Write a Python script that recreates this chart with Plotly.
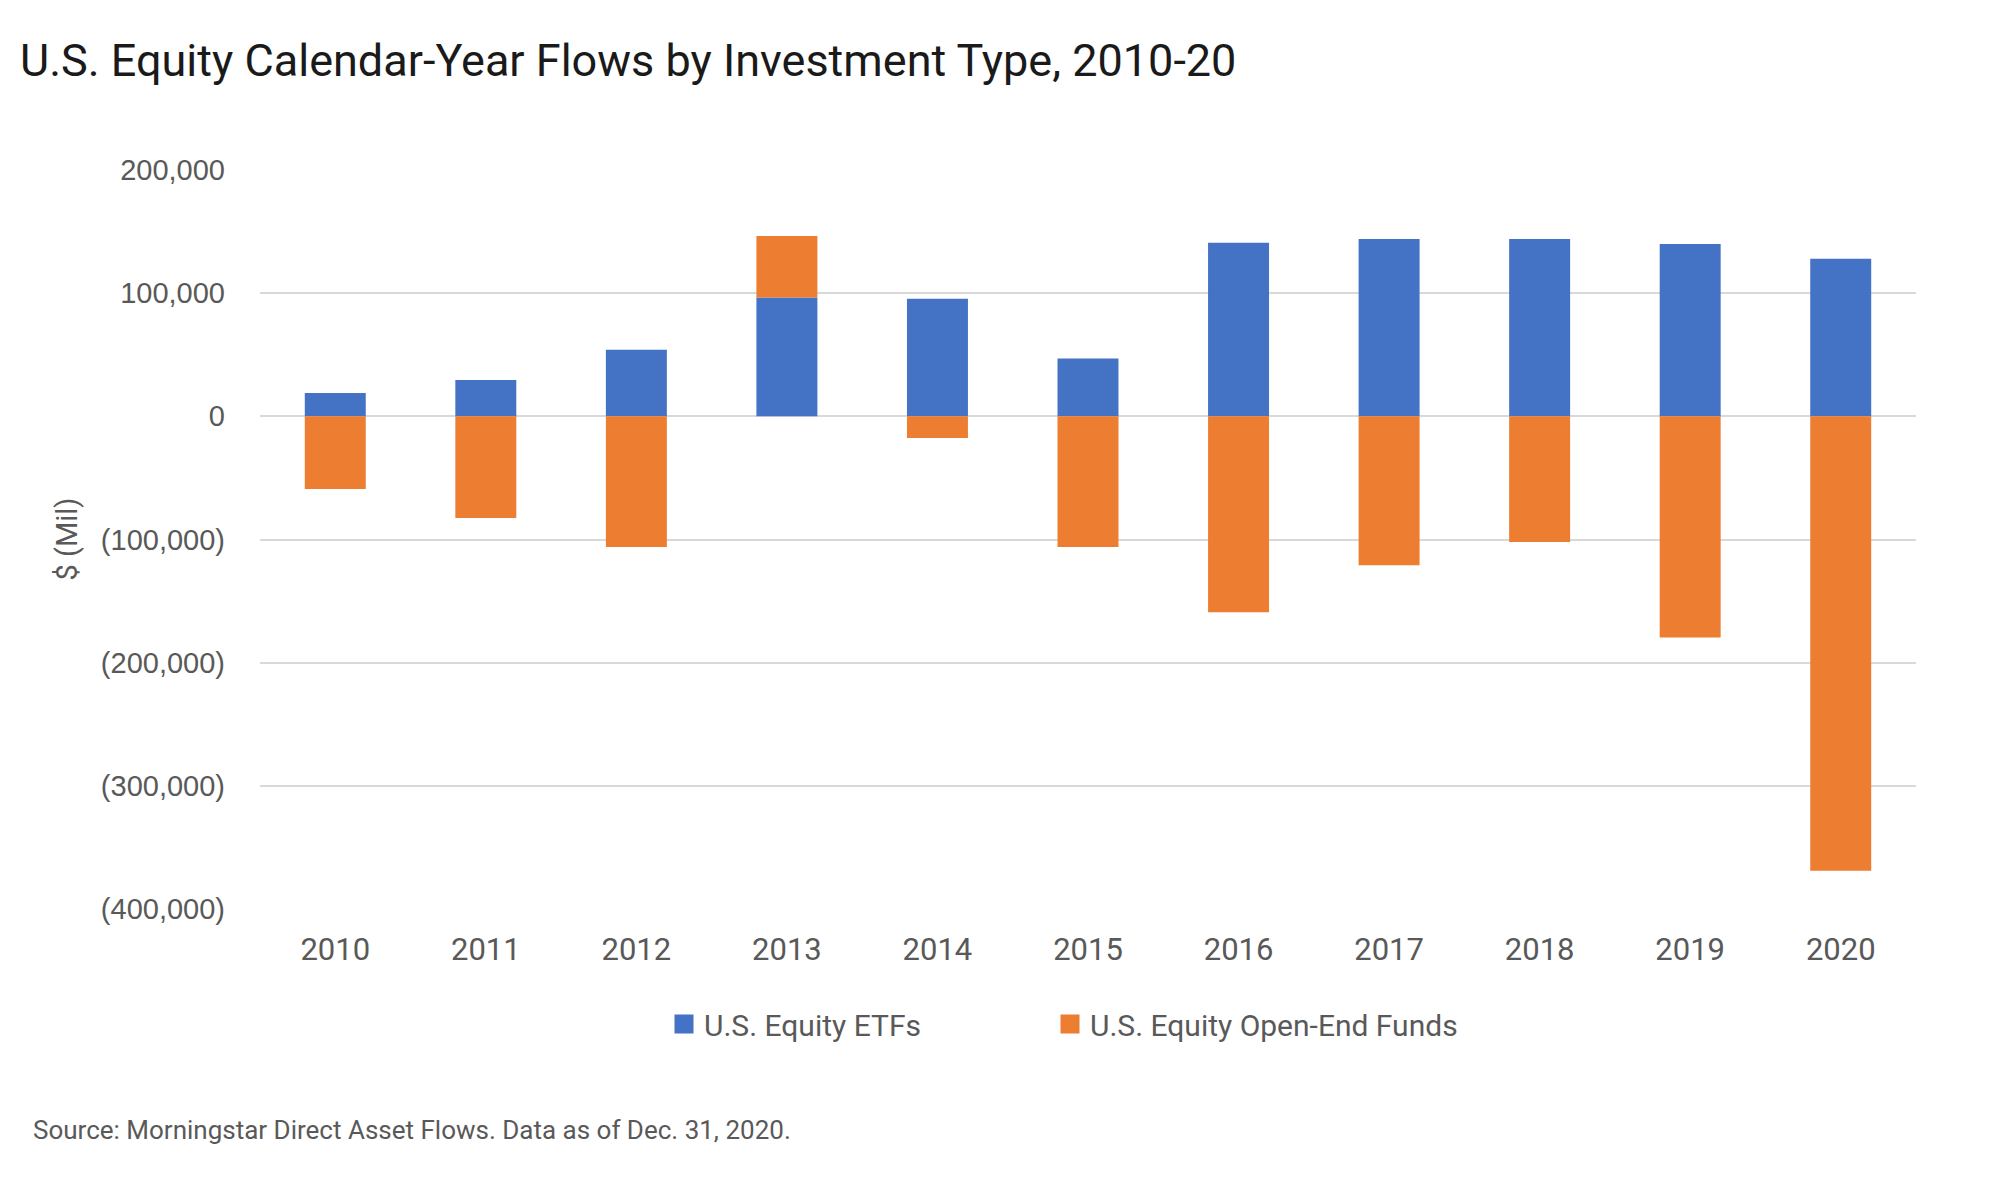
import plotly.graph_objects as go

years = ["2010", "2011", "2012", "2013", "2014", "2015", "2016", "2017", "2018", "2019", "2020"]
etf_flows = [19000, 29500, 54000, 96500, 95500, 47000, 141000, 144000, 144000, 140000, 128000]
openend_flows = [-59000, -82500, -106000, 50000, -17500, -106000, -159000, -121000, -102000, -179500, -369000]
y_tickvals = [200000, 100000, 0, -100000, -200000, -300000, -400000]
y_ticktext = ["200,000", "100,000", "0", "(100,000)", "(200,000)", "(300,000)", "(400,000)"]

BLUE = "#4472C4"
ORANGE = "#ED7D31"
GRAY = "#595959"
COND = "Roboto, Liberation Sans, sans-serif"
REG = "Liberation Sans, Arial, sans-serif"

W, H = 1992, 1195
L, R, T, B = 252, 84, 162, 294
PW, PH = W - L - R, H - T - B


def px_x(x):
    return (x - L) / PW


def px_y(y):
    return (H - B - y) / PH


fig = go.Figure()
fig.add_trace(go.Bar(x=years, y=etf_flows, name="U.S. Equity ETFs",
                     marker=dict(color=BLUE, line=dict(width=0)), showlegend=False))
fig.add_trace(go.Bar(x=years, y=openend_flows, name="U.S. Equity Open-End Funds",
                     marker=dict(color=ORANGE, line=dict(width=0)), showlegend=False))
# legend swatches
fig.add_trace(go.Scatter(x=[None], y=[None], mode="markers", name="U.S. Equity ETFs",
                         marker=dict(symbol="square", size=17, color=BLUE,
                                     line=dict(width=3, color=BLUE)),
                         legend="legend"))
fig.add_trace(go.Scatter(x=[None], y=[None], mode="markers", name="U.S. Equity Open-End Funds",
                         marker=dict(symbol="square", size=17, color=ORANGE,
                                     line=dict(width=3, color=ORANGE)),
                         legend="legend2"))

legend_common = dict(orientation="h", xanchor="left", yanchor="middle", y=px_y(1016),
                     font=dict(family=COND, size=30, color=GRAY), itemsizing="trace",
                     bgcolor="rgba(0,0,0,0)")

fig.update_layout(
    width=W, height=H,
    paper_bgcolor="white", plot_bgcolor="white",
    margin=dict(l=L, r=R, t=T, b=B),
    barmode="relative", bargap=0.595,
    title=dict(text="U.S. Equity Calendar-Year Flows by Investment Type, 2010-20",
               x=12 / W, xanchor="left", xref="container",
               y=1 - 52 / H, yanchor="middle", yref="container",
               font=dict(family=COND, size=45, color="#1a1a1a")),
    legend=dict(x=px_x(656), **legend_common),
    legend2=dict(x=px_x(1042), **legend_common),
    showlegend=True,
)
fig.update_xaxes(type="category", showgrid=False, showline=False, ticks="",
                 tickfont=dict(family=COND, size=31, color=GRAY), ticklabelstandoff=19)
fig.update_yaxes(range=[-400000, 200000], tickvals=y_tickvals, ticktext=y_ticktext,
                 showgrid=True, gridcolor="#D9D9D9", gridwidth=2,
                 zeroline=True, zerolinecolor="#D9D9D9", zerolinewidth=2,
                 showline=False, ticks="",
                 tickfont=dict(family=REG, size=29, color=GRAY), ticklabelstandoff=34)

fig.add_annotation(text="$ (Mil)", textangle=-90, xref="paper", yref="paper",
                   x=px_x(58), y=0.5, xanchor="center", yanchor="middle",
                   showarrow=False, font=dict(family=COND, size=29, color=GRAY))
fig.add_annotation(text="Source: Morningstar Direct Asset Flows. Data as of Dec. 31, 2020.",
                   xref="paper", yref="paper", x=px_x(23), y=px_y(1122),
                   xanchor="left", yanchor="middle", showarrow=False,
                   font=dict(family=COND, size=26, color=GRAY))

fig.write_html("out.html")
